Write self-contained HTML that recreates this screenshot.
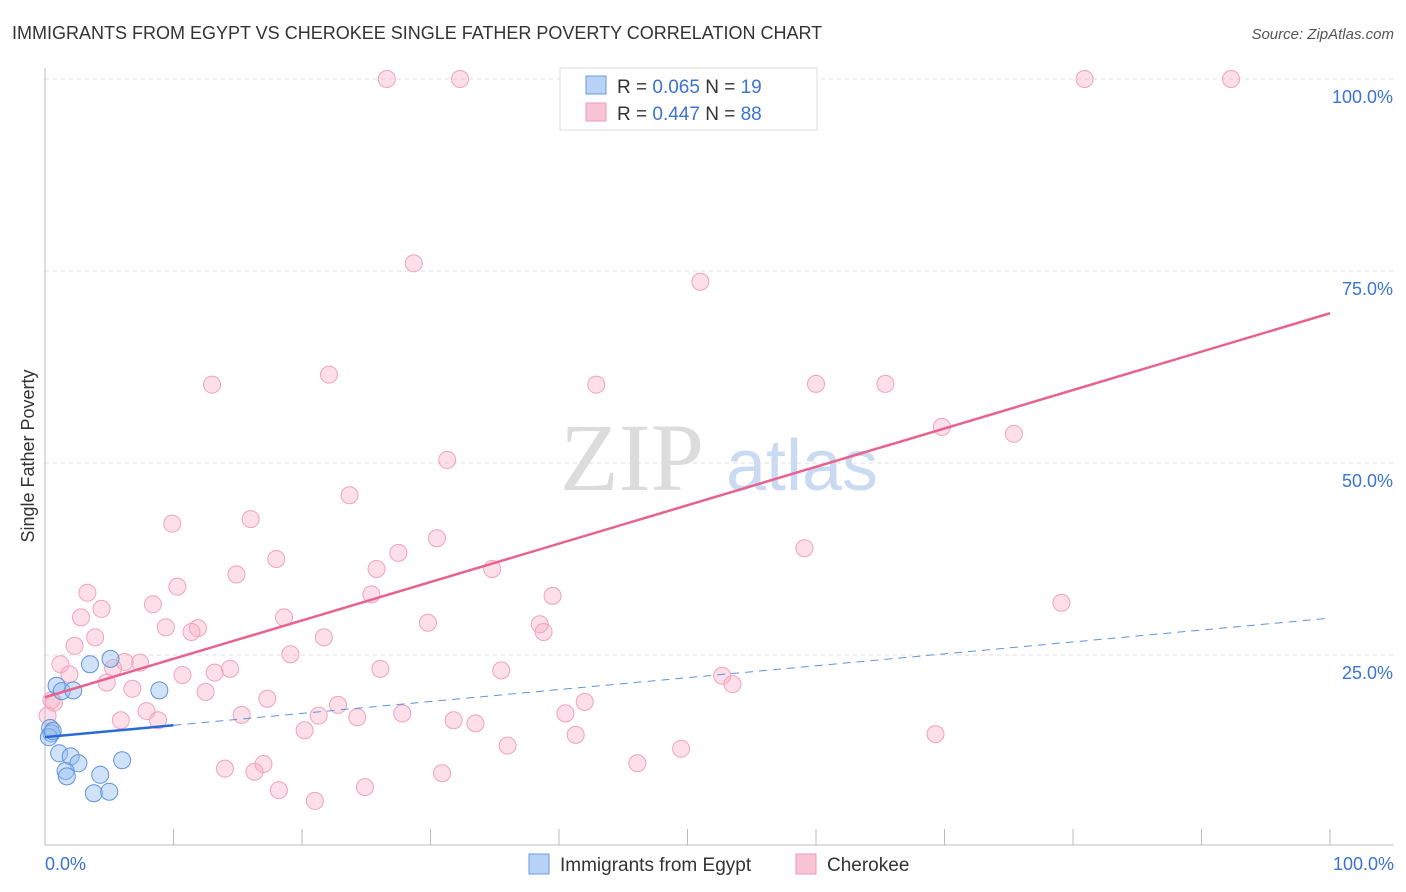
<!DOCTYPE html>
<html><head><meta charset="utf-8">
<style>
body{margin:0;background:#fff;font-family:"Liberation Sans",sans-serif;}
svg{display:block}
</style></head>
<body>
<svg id="chart" width="1406" height="892" xmlns="http://www.w3.org/2000/svg">
<text x="12" y="39" font-size="18" fill="#333">IMMIGRANTS FROM EGYPT VS CHEROKEE SINGLE FATHER POVERTY CORRELATION CHART</text>
<text x="1394" y="39" font-size="15" fill="#555" font-style="italic" text-anchor="end">Source: ZipAtlas.com</text>
<g>
<text x="632" y="490" font-size="96" font-family="Liberation Serif,serif" fill="#dcdcdc" text-anchor="middle">ZIP</text>
<text x="802" y="490" font-size="72" fill="#c9daf2" text-anchor="middle">atlas</text>
</g>
<g id="grid"></g>
<g id="axes"></g>
<g id="pinkPts"></g>
<g id="bluePts"></g>
<g id="trends"></g>
<text transform="translate(34,456) rotate(-90)" font-size="18" fill="#333" text-anchor="middle">Single Father Poverty</text>
<text x="45" y="870" font-size="18" fill="#3b73d1">0.0%</text>
<text x="1394" y="870" font-size="18" fill="#3b73d1" text-anchor="end">100.0%</text>
<g>
<rect x="560" y="68" width="257" height="62" fill="#fff" stroke="#ddd"/>
<rect x="586" y="76" width="20" height="18" fill="#b8d3f5" stroke="#6a9be0"/>
<text x="617" y="93" font-size="19" fill="#333">R = <tspan fill="#3b73d1">0.065</tspan>   N = <tspan fill="#3b73d1">19</tspan></text>
<rect x="586" y="103" width="20" height="18" fill="#f9c4d4" stroke="#ee9ab4"/>
<text x="617" y="120" font-size="19" fill="#333">R = <tspan fill="#3b73d1">0.447</tspan>   N = <tspan fill="#3b73d1">88</tspan></text>
</g>
<g>
<rect x="529" y="854" width="20" height="20" fill="#b8d3f5" stroke="#6a9be0"/>
<text x="560" y="871" font-size="19" fill="#333">Immigrants from Egypt</text>
<rect x="796" y="854" width="20" height="20" fill="#f9c4d4" stroke="#ee9ab4"/>
<text x="827" y="871" font-size="19" fill="#333">Cherokee</text>
</g>
</svg>
<script>
const yTicks=[25,50,75,100];
const yTickLabels=["25.0%","50.0%","75.0%","100.0%"];
const xTicks=[0,10,20,30,40,50,60,70,80,90,100];
const blueX=[3.5,5.1,0.9,1.3,2.2,8.9,0.4,0.5,0.3,1.1,2.0,2.6,1.6,1.7,4.3,6.0,3.8,5.0,0.6];
const blueY=[23.8,24.5,21.0,20.3,20.4,20.4,15.5,14.8,14.3,12.2,11.8,10.9,9.9,9.2,9.4,11.3,7.0,7.2,15.1];
const pinkX=[26.6,32.3,51.9,80.9,92.3,28.7,51.0,22.1,13.0,42.9,60.0,65.4,69.8,75.4,31.3,23.7,9.9,16.0,30.5,27.5,59.1,18.0,14.9,25.8,34.8,10.3,3.3,25.4,39.5,8.4,4.4,2.8,18.6,29.8,38.5,9.4,38.8,11.9,11.4,3.9,21.7,2.3,19.1,1.2,6.2,7.4,5.3,14.4,13.2,26.1,35.5,1.9,10.7,4.8,52.7,53.5,6.8,12.5,0.7,17.3,22.8,7.9,15.3,21.3,24.3,27.8,5.9,8.8,31.8,33.5,40.5,42.0,20.2,41.3,36.0,49.5,69.3,17.0,14.0,16.3,46.1,30.9,18.2,24.9,21.0,79.1,0.2,0.5];
const pinkY=[100,100,100,100,100,76.0,73.6,61.5,60.2,60.2,60.3,60.3,54.7,53.8,50.4,45.8,42.1,42.7,40.2,38.3,38.9,37.5,35.5,36.2,36.2,33.9,33.1,32.9,32.7,31.6,31.0,29.9,29.9,29.2,29.0,28.6,28.0,28.5,28.0,27.3,27.3,26.2,25.1,23.8,24.1,24.0,23.3,23.2,22.7,23.2,23.0,22.5,22.4,21.4,22.3,21.2,20.6,20.2,18.8,19.3,18.5,17.7,17.2,17.1,16.9,17.4,16.5,16.5,16.5,16.1,17.4,18.9,15.2,14.6,13.2,12.8,14.7,10.8,10.2,9.8,10.9,9.6,7.4,7.8,6.0,31.8,17.1,19.1];
const pinkTrend=[19.5,69.5];   // y at x=0, x=100
const blueTrend=[14.3,29.8];   // y at x=0, x=100
const blueSolidEnd=10;
const NS="http://www.w3.org/2000/svg";
const X0=45,X1=1330,YB=847,YT=79;
const sx=v=>X0+(X1-X0)*v/100;
const sy=v=>YB-(YB-YT)*v/100;
function mk(tag,attrs,parent){const e=document.createElementNS(NS,tag);for(const k in attrs)e.setAttribute(k,attrs[k]);parent.appendChild(e);return e;}
const grid=document.getElementById('grid');
yTicks.forEach((t,i)=>{
  const l=mk('line',{x1:X0,x2:1394,y1:sy(t),y2:sy(t),stroke:'#ddd','stroke-dasharray':'4,4'},grid);
  
  
  const tx=mk('text',{x:1393,y:sy(t)+24,'font-size':18,fill:'#3b73d1','text-anchor':'end'},grid);
  tx.textContent=yTickLabels[i];
  
  
});
const axes=document.getElementById('axes');
const ya=mk('line',{x1:X0,x2:X0,y1:68,y2:845,stroke:'#bbb'},axes);


const xa=mk('line',{x1:X0,x2:1394,y1:845,y2:845,stroke:'#bbb'},axes);


xTicks.forEach(t=>{
  const l=mk('line',{x1:sx(t),x2:sx(t),y1:829,y2:845,stroke:'#bbb'},axes);
  
  
});
const pg=document.getElementById('pinkPts');
pinkX.forEach((x,i)=>{
  const c=mk('circle',{cx:sx(x),cy:sy(pinkY[i]),r:8.5,fill:'rgba(248,175,198,0.4)',stroke:'#f0a3bb','stroke-width':1},pg);
  
  
});
const bg=document.getElementById('bluePts');
blueX.forEach((x,i)=>{
  const c=mk('circle',{cx:sx(x),cy:sy(blueY[i]),r:8.5,fill:'rgba(150,190,240,0.45)',stroke:'#5f93dc','stroke-width':1},bg);
  
  
});
const tg=document.getElementById('trends');
const bAt=v=>blueTrend[0]+(blueTrend[1]-blueTrend[0])*v/100;
const pl=mk('line',{x1:sx(0),y1:sy(pinkTrend[0]),x2:sx(100),y2:sy(pinkTrend[1]),stroke:'#e8628e','stroke-width':2.5},tg);


const bd=mk('line',{x1:sx(blueSolidEnd),y1:sy(bAt(blueSolidEnd)),x2:sx(100),y2:sy(blueTrend[1]),stroke:'#5f93dc','stroke-width':1,'stroke-dasharray':'8,6'},tg);


const bs=mk('line',{x1:sx(0),y1:sy(blueTrend[0]),x2:sx(blueSolidEnd),y2:sy(bAt(blueSolidEnd)),stroke:'#2a6ad6','stroke-width':2.5},tg);


</script>
</body></html>
